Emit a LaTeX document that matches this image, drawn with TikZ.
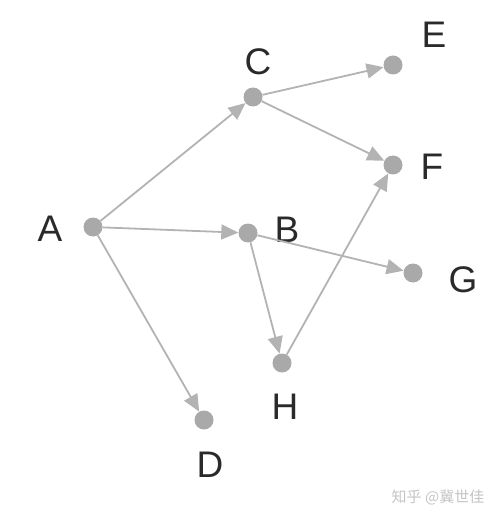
\documentclass[tikz,border=0pt]{standalone}
\usepackage{fontspec}
\setmainfont{Liberation Sans}
\newfontfamily\cjk{Noto Sans CJK SC}
\usetikzlibrary{arrows.meta}
\definecolor{dotgray}{HTML}{A9A9A9}
\definecolor{edgegray}{HTML}{B3B3B3}
\definecolor{wmgray}{HTML}{C4C4C4}
\definecolor{labelc}{HTML}{2A2A2A}
\tikzset{
  vtx/.style={circle, fill=dotgray, draw=none, minimum size=19pt, inner sep=0pt},
  lbl/.style={text=labelc, font=\fontsize{37}{37}\selectfont, inner sep=0pt, anchor=center},
  edge/.style={draw=edgegray, line width=1.8pt, -{Triangle[length=17pt, width=15pt, fill=edgegray]}, shorten >=0pt},
}
\begin{document}
\begin{tikzpicture}[x=1pt, y=-1pt]
\useasboundingbox (0,0) rectangle (497,521);
\node[vtx] (A) at (93,227) {};
\node[vtx] (C) at (253,97) {};
\node[vtx] (E) at (393,65) {};
\node[vtx] (F) at (393,165) {};
\node[vtx] (B) at (248,233) {};
\node[vtx] (G) at (413,273) {};
\node[vtx] (H) at (282,363) {};
\node[vtx] (D) at (204,420) {};
\node[lbl] (lA) at (50,229) {A};
\node[lbl] (lC) at (258,62) {C};
\node[lbl] (lE) at (434,35) {E};
\node[lbl] (lF) at (432,167) {F};
\node[lbl] (lB) at (287,230) {B};
\node[lbl] (lG) at (463,280) {G};
\node[lbl] (lH) at (285,407) {H};
\node[lbl] (lD) at (210,465) {D};
\draw[edge] (A) -- (C);
\draw[edge] (A) -- (B);
\draw[edge] (A) -- (D);
\draw[edge] (C) -- (E);
\draw[edge] (C) -- (F);
\draw[edge] (B) -- (G);
\draw[edge] (B) -- (H);
\draw[edge] (H) -- (F);
\node[text=wmgray, font=\cjk\fontsize{15}{15}\selectfont, inner sep=0pt] (wm) at (438,497) {知乎 @冀世佳};
\end{tikzpicture}
\end{document}
